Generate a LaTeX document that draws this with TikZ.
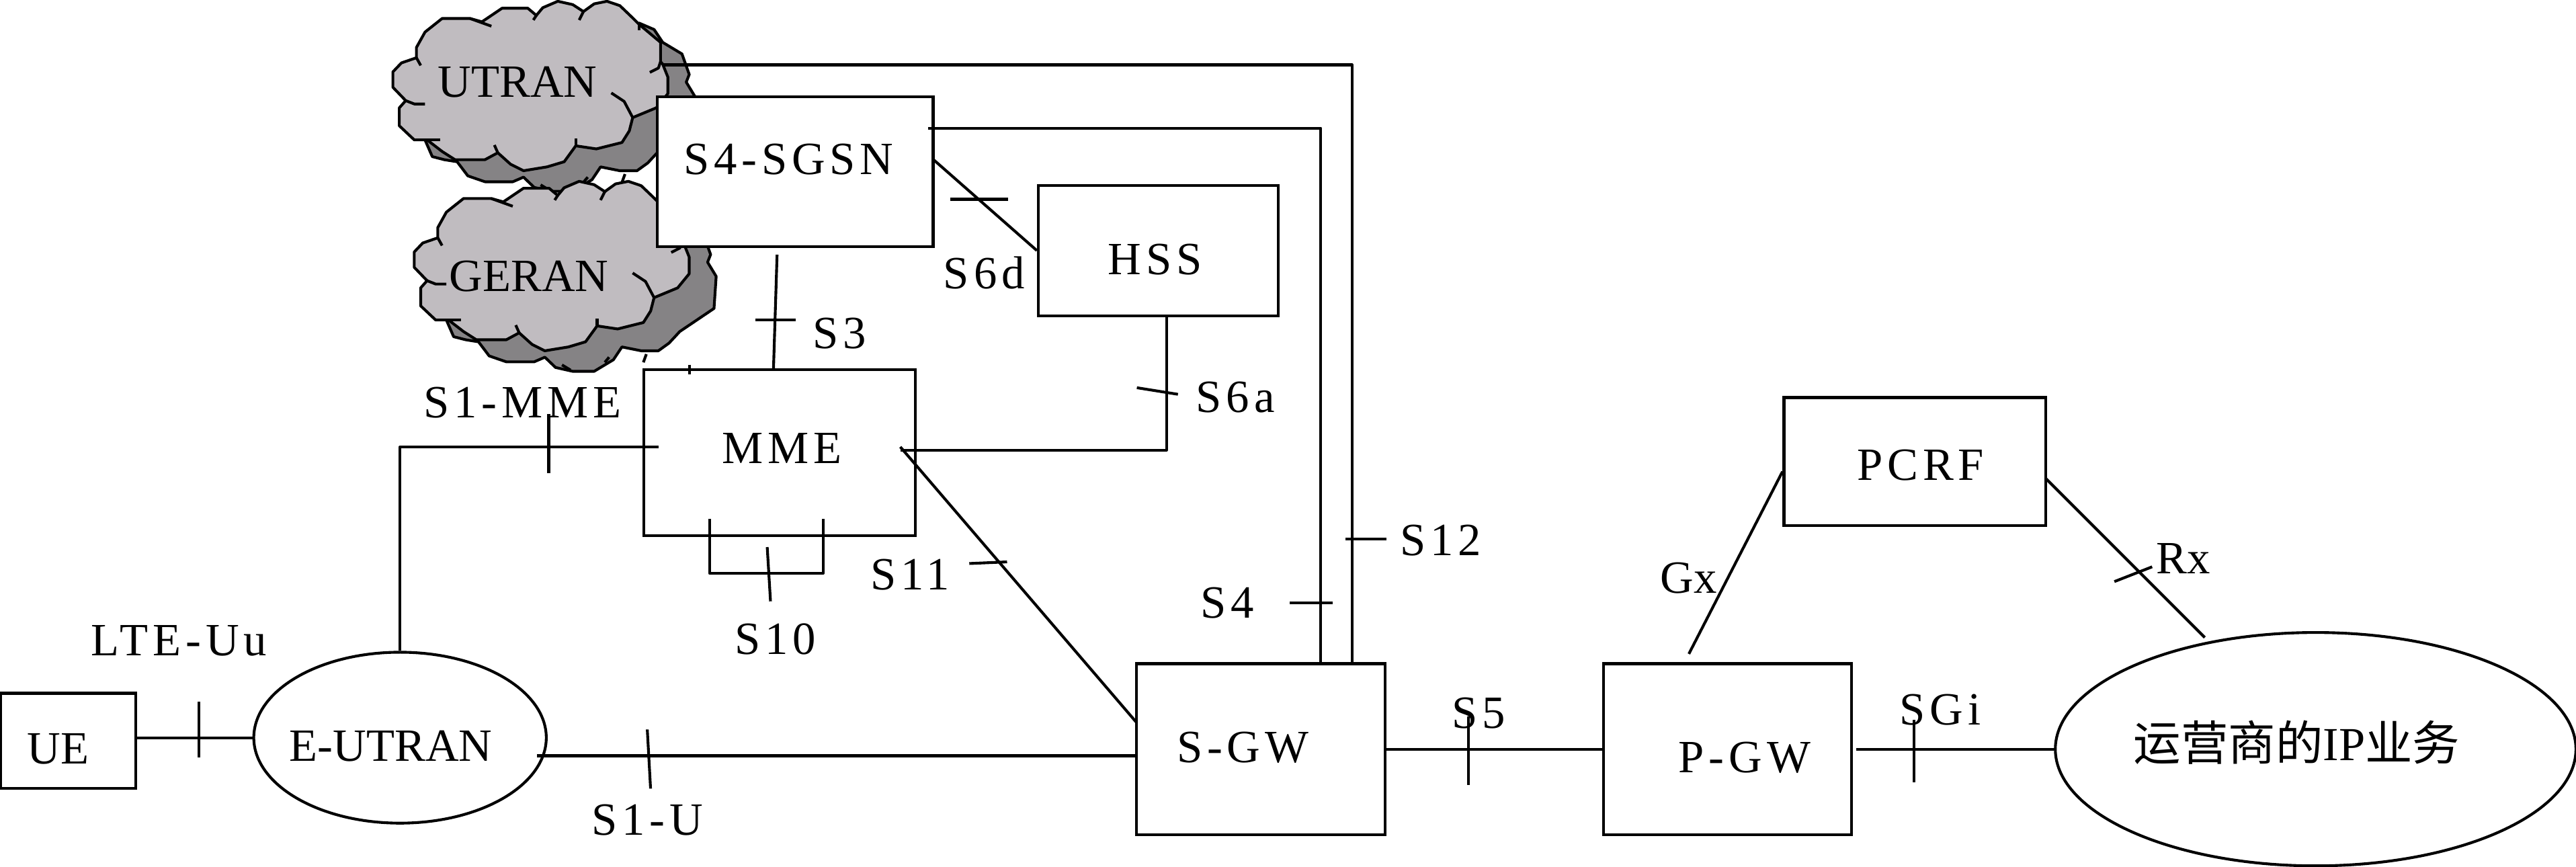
\documentclass[tikz,border=0pt]{standalone}
\usepackage{fontspec}
\setmainfont{Liberation Serif}
\newfontfamily\spacedfont[LetterSpace=10]{Liberation Serif}
\newfontfamily\cjkfont{Noto Sans CJK SC}
\usetikzlibrary{shapes.geometric}
\definecolor{cloudlight}{RGB}{192,188,192}
\definecolor{clouddark}{RGB}{133,131,133}
\newcommand{\offtext}[3]{\hspace*{#1\dimexpr0.05cm\relax}\vphantom{#3}\raisebox{#2\dimexpr0.025cm\relax}[0pt][0pt]{#3}}
\tikzset{
  block/.style={draw,fill=white,line width=1.2pt,inner sep=0pt,font=\fontsize{20}{24}\spacedfont},
  oval/.style={draw,fill=white,ellipse,line width=1.2pt,inner sep=0pt,font=\fontsize{20}{24}\selectfont},
  lab/.style={inner sep=0pt,font=\fontsize{20}{24}\spacedfont},
  plainlab/.style={inner sep=0pt,font=\fontsize{20}{24}\selectfont},
  link/.style={line width=1.2pt,line join=round},
  cloudblob/.pic={
    \begin{scope}[x=0.00652cm,y=-0.003913cm,line width=1.2pt,line join=round]
    \draw[fill=clouddark](645,90)--(680,115)--(700,165)--(745,210)--(762,290)--(755,320)--(775,375)--(770,500)--(690,590)--(665,635)--(640,665)--(600,665)--(555,650)--(535,700)--(490,745)--(440,745)--(400,730)--(375,690)--(350,708)--(285,708)--(245,685)--(220,630)--(190,622)--(162,610)--(145,545)--(300,400)--cycle;
    \draw[fill=cloudlight](185,72)--(250,72)--(278,85)--(325,32)--(385,32)--(405,60)--(420,30)--(455,5)--(490,18)--(515,45)--(540,15)--(570,5)--(600,22)--(630,70)--(645,95)--(695,165)--(695,240)--(700,250)--(712,300)--(712,365)--(685,420)--(630,458)--(622,510)--(605,555)--(545,580)--(497,568)--(470,630)--(430,650)--(375,665)--(345,640)--(315,595)--(285,622)--(215,622)--(185,590)--(150,545)--(120,545)--(85,490)--(85,420)--(100,392)--(70,340)--(70,280)--(90,245)--(125,225)--(125,185)--(145,125)--cycle;
    \draw(250,72)--(300,102);
    \draw(405,60)--(398,78);
    \draw(515,45)--(505,78);
    \draw(645,95)--(645,118);
    \draw(695,240)--(690,265)--(670,282);
    \draw(580,362)--(610,395)--(630,458);
    \draw(497,568)--(497,540);
    \draw(315,595)--(307,565);
    \draw(150,545)--(180,545);
    \draw(100,392)--(120,405)--(145,405);
    \draw(125,225)--(135,255);
    \draw(612,678)--(605,710);
    \draw(525,690)--(515,710);
    \draw(415,720)--(435,740);
    \end{scope}
  }
}
\begin{document}
\begin{tikzpicture}[x=0.025cm,y=-0.025cm]
\useasboundingbox(0,0)rectangle(1568,527.7);
\pic at(220.9,0){cloudblob};
\pic at(233.9,109.6){cloudblob};
\node[plainlab](utran)at(315,50){UTRAN};
\node[plainlab](geran)at(322,168){GERAN};
\node[block,minimum width=2.05cm,minimum height=1.45cm](ue)at(41.5,451){\offtext{-6}{-5}{\normalfont UE}};
\node[oval,minimum width=4.45cm,minimum height=2.6cm](eutran)at(243.5,449){\offtext{-5.5}{-5}{E-UTRAN}};
\node[block,minimum width=4.2cm,minimum height=2.28cm](sgsn)at(484,104.5){\offtext{-4}{7.5}{S4-SGSN}};
\node[block,minimum width=3.65cm,minimum height=1.98cm](hss)at(705,152.5){\offtext{-2}{-5.5}{HSS}};
\node[block,minimum width=4.13cm,minimum height=2.53cm](mme)at(474.5,275.5){\offtext{1.5}{2.5}{MME}};
\node[block,minimum width=3.78cm,minimum height=2.6cm](sgw)at(767.5,456){\offtext{-11}{1}{S-GW}};
\node[block,minimum width=3.78cm,minimum height=2.6cm](pgw)at(1051.5,456){\offtext{10.5}{-5}{P-GW}};
\node[block,minimum width=3.98cm,minimum height=1.95cm](pcrf)at(1165.5,281){\offtext{3.5}{-2}{PCRF}};
\node[oval,minimum width=7.92cm,minimum height=3.55cm,font=\fontsize{20.5}{24}\selectfont](opip)at(1409.5,456){\offtext{-11.5}{4}{{\cjkfont 运营商的}IP{\cjkfont 业务}}};
\coordinate(mmein)at(401,272);
\coordinate(sluend)at(327,460);
\coordinate(sthreea)at(473,155);
\coordinate(sthreeb)at(470.8,225);
\coordinate(ssixd)at(568,97);
\coordinate(sfoura)at(565,78);
\coordinate(sfourb)at(804,404);
\coordinate(stwelvea)at(403.5,39.5);
\coordinate(stwelveb)at(823,404);
\coordinate(ssixa)at(548,274);
\coordinate(ssixb)at(710,192);
\coordinate(stena)at(432,316);
\coordinate(stenb)at(501,316);
\coordinate(selevena)at(548,272);
\coordinate(selevenb)at(692,440);
\coordinate(sgia)at(1130,456);
\coordinate(gxa)at(1085,287);
\coordinate(gxb)at(1028,398);
\coordinate(rxa)at(1245,291);
\coordinate(rxb)at(1342,388);
\draw[link](eutran.west-|ue.east)--(eutran.west);
\draw[link](eutran.north)|-(mmein);
\draw[link](sluend)--(sluend-|sgw.west);
\draw[link](sthreea)--(sthreeb);
\draw[link](ssixd)--(hss.west);
\draw[link](sfoura)-|(sfourb);
\draw[link](stwelvea)-|(stwelveb);
\draw[link](ssixa)-|(ssixb);
\draw[link](stena)--++(0,33)-|(stenb);
\draw[link](selevena)--(selevenb);
\draw[link](sgw.east)--(pgw.west);
\draw[link](sgia)--(opip.west);
\draw[link](gxa)--(gxb);
\draw[link](rxa)--(rxb);
\foreach \tickname/\xa/\ya/\xb/\yb in {uu/121/427/121/461,slu/394/444/396/480,slm/334/252/334/288,sthree/460/194.6/484.4/194.6,ssixd/578.3/121.3/613.5/121.3,ssixa/692/236/717/240,sten/467/333/469/366,seleven/590/343/613/342,sfour/785/367/811/367,stwelve/819/328/844/328,sfive/894/436/894/478,sgi/1165/438/1165/476,rx/1287/354/1310/345,mmetop/419.7/222/419.7/228}{
  \coordinate(\tickname a)at(\xa,\ya);
  \coordinate(\tickname b)at(\xb,\yb);
  \draw[link](\tickname a)--(\tickname b);
}
\node[lab](lteuu)at(109,390){LTE-Uu};
\node[lab](sluu)at(394,499){S1-U};
\node[lab](slmme)at(318,245){S1-MME};
\node[lab](sthreelab)at(511,203){S3};
\node[lab](ssixdlab)at(599,166){S6d};
\node[lab](ssixalab)at(752,242){S6a};
\node[lab](stenlab)at(472,389){S10};
\node[lab](selevenlab)at(554,350){S11};
\node[lab](sfourlab)at(747,367){S4};
\node[lab](stwelvelab)at(877,329){S12};
\node[lab](sfivelab)at(900,434){S5};
\node[lab](sgilab)at(1181,432){SGi};
\node[plainlab](gxlab)at(1028,352){Gx};
\node[plainlab](rxlab)at(1329,340){Rx};
\end{tikzpicture}
\end{document}
